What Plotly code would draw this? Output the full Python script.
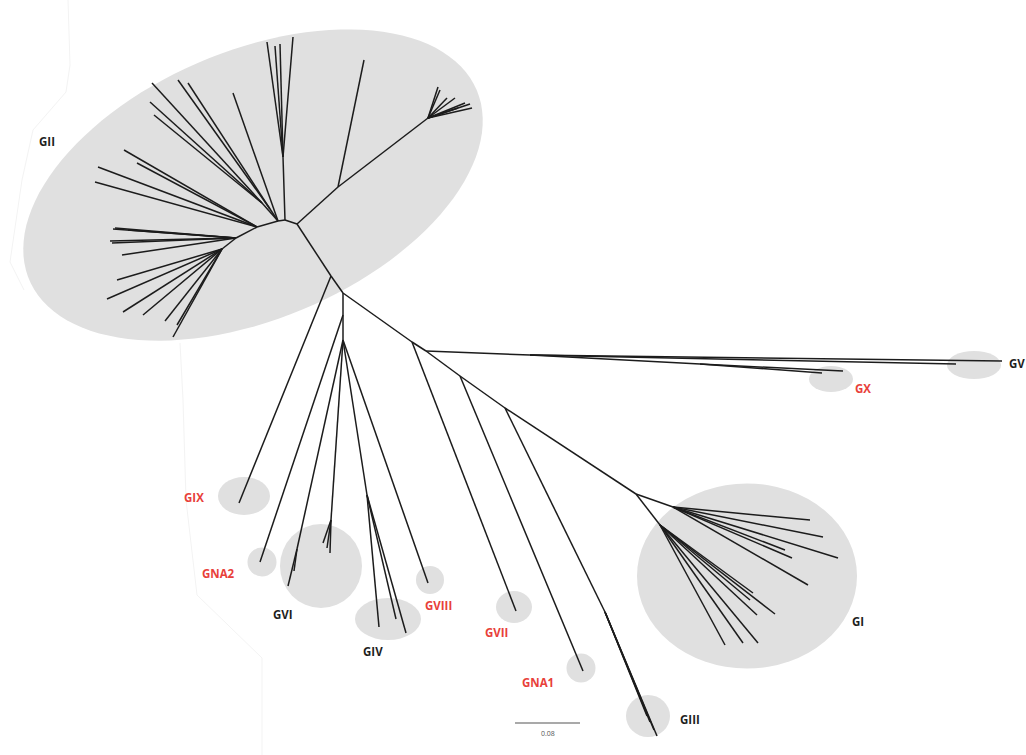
import plotly.graph_objects as go
import numpy as np

# ---------------- DATA ----------------
# Tree nodes (unrooted tree layout, in the figure's drawing units)
node_id = ["A", "P1", "H", "GIX_t", "Q1", "GNA2_t", "Q2",
           "GVI_a1", "GVI_a2", "GVI_a3", "GVI_c", "GVI_c1", "GVI_c2", "GVI_c3",
           "GIV_n", "GIV_1", "GIV_2", "GIV_3", "GVIII_t",
           "B", "C", "E", "F", "G", "GVII_t", "D", "GV_1", "GV_2", "GX_n", "GX_1", "GX_2",
           "GNA1_t", "GIII_n", "GIII_1", "GIII_2", "GIII_3", "GIII_4",
           "G_up", "GI_u1", "GI_u2", "GI_u3", "GI_u4", "GI_u5", "GI_u6",
           "G_low", "GI_l1", "GI_l2", "GI_l3", "GI_l4", "GI_l5", "GI_l6", "GI_l7",
           "N", "N_t", "O", "O1", "O2", "O3", "O4", "O5", "O6", "O7", "O8",
           "I1", "T", "T1", "T2", "T3", "T4",
           "I2", "I2_t", "J", "J1", "J2", "K", "K1", "K2", "K3",
           "I3", "I3_1", "I3_2", "I3_3", "I3_4",
           "I4", "L1", "L2", "L3", "L4", "L5", "L6",
           "I5", "M1", "M2", "M3", "M4", "M5", "M6", "M7"]
node_x = [343, 331, 297, 239, 343, 260, 343,
          297, 288, 294, 331, 323, 327, 330,
          367, 379, 396, 406, 428,
          412, 426, 460, 505, 636, 516, 530, 1002, 956, 700, 843, 822,
          583, 605, 647, 650, 654, 657,
          673, 810, 823, 838, 808, 792, 785,
          660, 725, 743, 758, 757, 775, 753, 750,
          338, 364, 428, 438, 440, 447, 455, 465, 472, 470, 458,
          285, 283, 267, 275, 280, 293,
          278, 233, 270, 178, 188, 262, 152, 150, 154,
          257, 124, 98, 95, 137,
          236, 113, 112, 122, 128, 115, 110,
          222, 117, 107, 123, 143, 165, 173, 177]
node_y = [293, 276, 224, 503, 315, 562, 340,
          549, 586, 571, 520, 543, 548, 553,
          495, 627, 619, 633, 583,
          342, 351, 376, 408, 494, 611, 355, 361, 364, 364, 371, 373,
          671, 612, 716, 722, 730, 736,
          507, 520, 537, 558, 585, 558, 550,
          525, 645, 643, 643, 615, 614, 593, 600,
          187, 60, 118, 87, 90, 98, 98, 103, 108, 104, 108,
          220, 157, 42, 46, 44, 37,
          221, 93, 209, 80, 83, 203, 83, 102, 115,
          227, 150, 167, 182, 163,
          238, 229, 243, 255, 230, 228, 241,
          249, 280, 299, 312, 315, 321, 337, 325]
node_parent = [None, "A", "P1", "P1", "A", "Q1", "Q1",
               "Q2", "GVI_a1", "GVI_a1", "Q2", "GVI_c", "GVI_c", "GVI_c",
               "Q2", "GIV_n", "GIV_n", "GIV_n", "Q2",
               "A", "B", "C", "E", "F", "B", "C", "D", "D", "D", "GX_n", "GX_n",
               "E", "F", "GIII_n", "GIII_n", "GIII_n", "GIII_n",
               "G", "G_up", "G_up", "G_up", "G_up", "G_up", "G_up",
               "G", "G_low", "G_low", "G_low", "G_low", "G_low", "G_low", "G_low",
               "H", "N", "N", "O", "O", "O", "O", "O", "O", "O", "O",
               "H", "I1", "T", "T", "T", "T",
               "I1", "I2", "I2", "J", "J", "I2", "K", "K", "K",
               "I2", "I3", "I3", "I3", "I3",
               "I3", "I4", "I4", "I4", "I4", "I4", "I4",
               "I4", "I5", "I5", "I5", "I5", "I5", "I5", "I5"]

# Clade labels
clade_names = ["GII", "GIX", "GNA2", "GVI", "GIV", "GVIII", "GVII", "GNA1", "GIII", "GI", "GX", "GV"]
clade_color = ["#1e1e1e", "#e8403a", "#e8403a", "#1e1e1e", "#1e1e1e", "#e8403a",
               "#e8403a", "#e8403a", "#1e1e1e", "#1e1e1e", "#e8403a", "#1e1e1e"]
label_x = [47, 194, 218, 283, 373, 438, 496, 538, 690, 858, 863, 1017]
label_y = [141, 497, 573, 614, 651, 605, 632, 682, 719, 621, 388, 363]

# Clade highlight ellipses (centre x, centre y, radius x, radius y)
hl_cx = [244, 262, 321, 388, 430, 514, 581, 648, 747, 831, 974]
hl_cy = [496, 562, 566, 619, 580, 607, 668, 716, 576, 379, 365]
hl_rx = [26, 14.5, 41, 33, 14, 18, 14.5, 22, 110, 22, 27]
hl_ry = [19, 14.5, 42, 21, 14, 16, 14.5, 21, 92.5, 13, 14]

# Scale bar
scale_label = "0.08"

# ---------------- FIGURE ----------------
fig = go.Figure()
shapes = []
FILL = "#e0e0e0"

# Large rotated ellipse around GII
cx, cy, a, b, th = 253, 185, 243, 134, np.deg2rad(23)
t = np.linspace(0, 2 * np.pi, 120)
ex = cx + a * np.cos(t) * np.cos(th) - b * np.sin(t) * np.sin(th)
ey = cy - (a * np.cos(t) * np.sin(th) + b * np.sin(t) * np.cos(th))
path = "M " + " L ".join(f"{x:.1f},{y:.1f}" for x, y in zip(ex, ey)) + " Z"
shapes.append(dict(type="path", path=path, xref="x", yref="y",
                   fillcolor=FILL, line=dict(width=0), layer="below"))

for x0, y0, rx, ry in zip(hl_cx, hl_cy, hl_rx, hl_ry):
    shapes.append(dict(type="circle", xref="x", yref="y",
                       x0=x0 - rx, x1=x0 + rx, y0=y0 - ry, y1=y0 + ry,
                       fillcolor=FILL, line=dict(width=0), layer="below"))

# faint background artefact outline
art_x = [68, 70, 66, 33, 22, 10, 24]
art_y = [0, 65, 92, 130, 180, 262, 290]
art2_x = [180, 183, 186, 197, 262, 262]
art2_y = [343, 400, 500, 595, 658, 755]
for ax_, ay_ in ((art_x, art_y), (art2_x, art2_y)):
    fig.add_trace(go.Scatter(x=ax_, y=ay_, mode="lines",
                             line=dict(color="#f3f3f3", width=1),
                             hoverinfo="skip", showlegend=False))

# Tree branches
pos = {n: (x, y) for n, x, y in zip(node_id, node_x, node_y)}
lx, ly = [], []
for n, p in zip(node_id, node_parent):
    if p is None:
        continue
    x0, y0 = pos[p]
    x1, y1 = pos[n]
    lx += [x0, x1, None]
    ly += [y0, y1, None]
fig.add_trace(go.Scatter(x=lx, y=ly, mode="lines",
                         line=dict(color="#1c1c1c", width=1.5),
                         hoverinfo="skip", showlegend=False))

# scale bar
fig.add_trace(go.Scatter(x=[515, 580], y=[723, 723], mode="lines",
                         line=dict(color="#555555", width=1.2),
                         hoverinfo="skip", showlegend=False))

annotations = []
for name, col, x, y in zip(clade_names, clade_color, label_x, label_y):
    annotations.append(dict(x=x, y=y, xref="x", yref="y", text=f"<b>{name}</b>",
                            showarrow=False, font=dict(family="Open Sans", size=11.5, color=col),
                            xanchor="center", yanchor="middle"))
annotations.append(dict(x=548, y=733, xref="x", yref="y", text=scale_label, showarrow=False,
                        font=dict(family="Open Sans", size=7, color="#555555"),
                        xanchor="center", yanchor="middle"))

fig.update_layout(
    width=1026, height=755,
    margin=dict(l=0, r=0, t=0, b=0),
    paper_bgcolor="white", plot_bgcolor="white",
    xaxis=dict(range=[0, 1026], visible=False, fixedrange=True),
    yaxis=dict(range=[755, 0], visible=False, fixedrange=True),
    shapes=shapes, annotations=annotations,
    showlegend=False,
)
fig.write_html("out.html", config={"displayModeBar": False})
